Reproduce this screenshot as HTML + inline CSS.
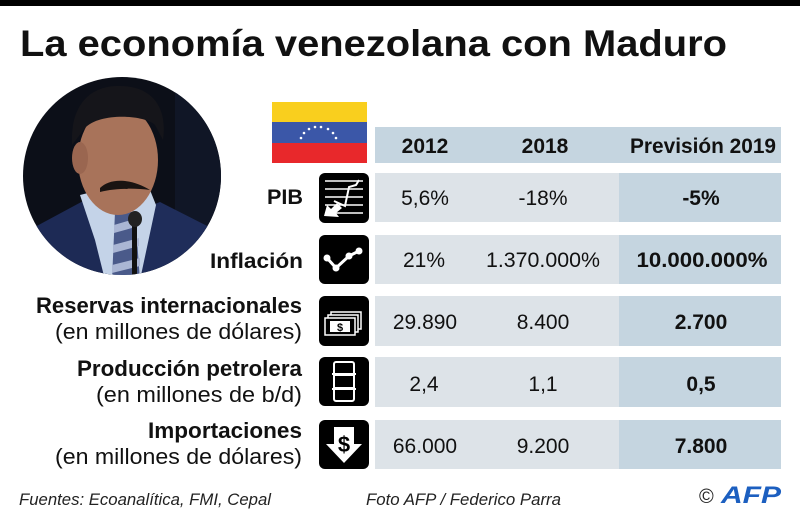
<!DOCTYPE html>
<html><head><meta charset="utf-8"><style>
html,body{margin:0;padding:0;background:#fff;}
svg{display:block;}
text{font-family:"Liberation Sans",sans-serif;fill:#111;}
.b{font-weight:bold;}
</style></head><body>
<svg width="800" height="522" viewBox="0 0 800 522" xmlns="http://www.w3.org/2000/svg">
<defs>
<clipPath id="cc"><circle cx="122" cy="176" r="99"/></clipPath>
</defs>
<rect x="0" y="0" width="800" height="522" fill="#fff"/>
<rect x="0" y="0" width="800" height="6" fill="#000"/>
<text x="20" y="56" font-size="37" class="b" textLength="707" lengthAdjust="spacingAndGlyphs">La economía venezolana con Maduro</text>

<!-- photo -->
<g clip-path="url(#cc)">
<rect x="20" y="75" width="205" height="205" fill="#0c0f18"/>
<rect x="175" y="75" width="50" height="205" fill="#101626"/>
<!-- suit -->
<path d="M20 235 L85 200 L110 210 L140 280 L20 280Z" fill="#1d2a55"/>
<path d="M225 235 L160 202 L140 210 L125 280 L225 280Z" fill="#1f2d5a"/>
<!-- shirt -->
<path d="M80 195 L100 190 L150 190 L156 205 L140 280 L105 280 L95 240Z" fill="#c4d3e8"/>
<!-- tie -->
<path d="M115 212 L135 212 L140 280 L112 280Z" fill="#4a5a8a"/>
<path d="M114 225 L138 218 L139 226 L114 233Z M113 245 L139 238 L139 246 L113 253Z M112 265 L140 258 L140 266 L112 273Z" fill="#aab6d4"/>
<!-- face -->
<ellipse cx="118" cy="160" rx="40" ry="55" fill="#a8735a"/>
<ellipse cx="80" cy="158" rx="8" ry="16" fill="#9a6650"/>
<!-- hair -->
<path d="M72 145 C70 100 95 85 120 86 C150 86 168 105 163 140 L155 125 C145 115 100 112 85 128 Z" fill="#15151a"/>
<!-- mustache -->
<path d="M100 188 C110 178 130 178 150 190 C135 188 115 188 100 192Z" fill="#1a1412"/>
<!-- mic -->
<rect x="132" y="215" width="5" height="65" fill="#111"/>
<ellipse cx="135" cy="219" rx="7" ry="8" fill="#222"/>
</g>

<!-- flag -->
<rect x="272" y="102" width="95" height="20" fill="#f9cf1e"/>
<rect x="272" y="122" width="95" height="21" fill="#3b57a8"/>
<rect x="272" y="143" width="95" height="20" fill="#e8282b"/>
<g fill="#fff" font-size="6">
<circle cx="301" cy="138" r="1.3"/><circle cx="304" cy="133" r="1.3"/><circle cx="309" cy="129" r="1.3"/><circle cx="315" cy="127" r="1.3"/>
<circle cx="321" cy="127" r="1.3"/><circle cx="328" cy="129" r="1.3"/><circle cx="333" cy="133" r="1.3"/><circle cx="336" cy="138" r="1.3"/>
</g>

<!-- header -->
<rect x="375" y="127" width="406" height="36" fill="#c5d5e0"/>
<text x="425" y="153" font-size="21" class="b" text-anchor="middle">2012</text>
<text x="545" y="153" font-size="21" class="b" text-anchor="middle">2018</text>
<text x="703" y="153" font-size="21" class="b" text-anchor="middle" textLength="146" lengthAdjust="spacingAndGlyphs">Previsión 2019</text>

<!-- rows backgrounds -->
<g>
<rect x="375" y="173" width="244" height="49" fill="#dde3e8"/><rect x="619" y="173" width="162" height="49" fill="#c5d5e0"/>
<rect x="375" y="235" width="244" height="49" fill="#dde3e8"/><rect x="619" y="235" width="162" height="49" fill="#c5d5e0"/>
<rect x="375" y="296" width="244" height="50" fill="#dde3e8"/><rect x="619" y="296" width="162" height="50" fill="#c5d5e0"/>
<rect x="375" y="357" width="244" height="50" fill="#dde3e8"/><rect x="619" y="357" width="162" height="50" fill="#c5d5e0"/>
<rect x="375" y="420" width="244" height="49" fill="#dde3e8"/><rect x="619" y="420" width="162" height="49" fill="#c5d5e0"/>
</g>

<!-- icons -->
<g fill="#000">
<rect x="319" y="173" width="50" height="50" rx="6"/>
<rect x="319" y="235" width="50" height="49" rx="6"/>
<rect x="319" y="296" width="50" height="50" rx="6"/>
<rect x="319" y="357" width="50" height="49" rx="6"/>
<rect x="319" y="420" width="50" height="49" rx="6"/>
</g>
<!-- PIB icon -->
<g stroke="#fff" stroke-width="1.5" fill="none">
<line x1="325" y1="181" x2="363" y2="181"/><line x1="325" y1="189" x2="363" y2="189"/>
<line x1="325" y1="197" x2="363" y2="197"/><line x1="325" y1="205" x2="363" y2="205"/><line x1="325" y1="213" x2="363" y2="213"/>
<polyline points="334,201 345,206 349,187 356,185 359,180" stroke-width="2"/>
</g>
<path d="M324 216 L327 205 L331 209 L337 203 L342 208 L336 213 L339 217Z" fill="#fff"/>
<!-- Inflation icon -->
<g stroke="#fff" stroke-width="3" fill="none"><polyline points="327,258 336,268 349,256 359,251"/></g>
<g fill="#fff"><circle cx="327" cy="258" r="3.5"/><circle cx="336" cy="268" r="3.5"/><circle cx="349" cy="256" r="3.5"/><circle cx="359" cy="251" r="3.5"/></g>
<!-- Reservas icon -->
<g stroke="#fff" stroke-width="1.5" fill="#000">
<rect x="331" y="312" width="30" height="17"/>
<rect x="328" y="315" width="30" height="17"/>
<rect x="325" y="318" width="30" height="17"/>
</g>
<rect x="330" y="321" width="20" height="11" fill="#fff"/>
<text x="340" y="331" font-size="11" class="b" text-anchor="middle" style="fill:#000">$</text>
<!-- Barrel icon -->
<g stroke="#fff" stroke-width="2" fill="none">
<rect x="334" y="362" width="20" height="39" rx="2"/>
<line x1="334" y1="375" x2="354" y2="375"/><line x1="334" y1="388" x2="354" y2="388"/>
<line x1="332" y1="374" x2="356" y2="374"/><line x1="332" y1="389" x2="356" y2="389"/>
</g>
<!-- Import icon -->
<path d="M334 427 L354 427 L354 444 L362 444 L344 463 L326 444 L334 444Z" fill="#fff"/>
<text x="344" y="452" font-size="22" class="b" text-anchor="middle" style="fill:#000">$</text>

<!-- labels -->
<g text-anchor="end">
<text x="303" y="204" font-size="21" class="b" textLength="36" lengthAdjust="spacingAndGlyphs">PIB</text>
<text x="303" y="268" font-size="21" class="b" textLength="93" lengthAdjust="spacingAndGlyphs">Inflación</text>
<text x="302" y="313" font-size="22" class="b" textLength="266" lengthAdjust="spacingAndGlyphs">Reservas internacionales</text>
<text x="302" y="339" font-size="22" textLength="247" lengthAdjust="spacingAndGlyphs">(en millones de dólares)</text>
<text x="302" y="376" font-size="22" class="b" textLength="225" lengthAdjust="spacingAndGlyphs">Producción petrolera</text>
<text x="302" y="402" font-size="22" textLength="206" lengthAdjust="spacingAndGlyphs">(en millones de b/d)</text>
<text x="302" y="438" font-size="22" class="b" textLength="154" lengthAdjust="spacingAndGlyphs">Importaciones</text>
<text x="302" y="464" font-size="22" textLength="247" lengthAdjust="spacingAndGlyphs">(en millones de dólares)</text>
</g>

<!-- values -->
<g text-anchor="middle" font-size="21">
<text x="425" y="205">5,6%</text><text x="543" y="205">-18%</text><text x="701" y="205" class="b">-5%</text>
<text x="424" y="267">21%</text><text x="543" y="267" textLength="114" lengthAdjust="spacingAndGlyphs">1.370.000%</text><text x="702" y="267" class="b" textLength="131" lengthAdjust="spacingAndGlyphs">10.000.000%</text>
<text x="425" y="329">29.890</text><text x="543" y="329">8.400</text><text x="701" y="329" class="b">2.700</text>
<text x="424" y="391">2,4</text><text x="543" y="391">1,1</text><text x="701" y="391" class="b">0,5</text>
<text x="425" y="453">66.000</text><text x="543" y="453">9.200</text><text x="701" y="453" class="b">7.800</text>
</g>

<!-- footer -->
<text x="19" y="505" font-size="17" font-style="italic" textLength="252" lengthAdjust="spacingAndGlyphs" style="fill:#222">Fuentes: Ecoanalítica, FMI, Cepal</text>
<text x="366" y="505" font-size="17" font-style="italic" textLength="195" lengthAdjust="spacingAndGlyphs" style="fill:#222">Foto AFP /  Federico Parra</text>
<text x="699" y="503" font-size="20" style="fill:#222">©</text>
<text x="721" y="503" font-size="24" class="b" font-style="italic" textLength="60" lengthAdjust="spacingAndGlyphs" style="fill:#1c5fc0">AFP</text>
</svg>
</body></html>
